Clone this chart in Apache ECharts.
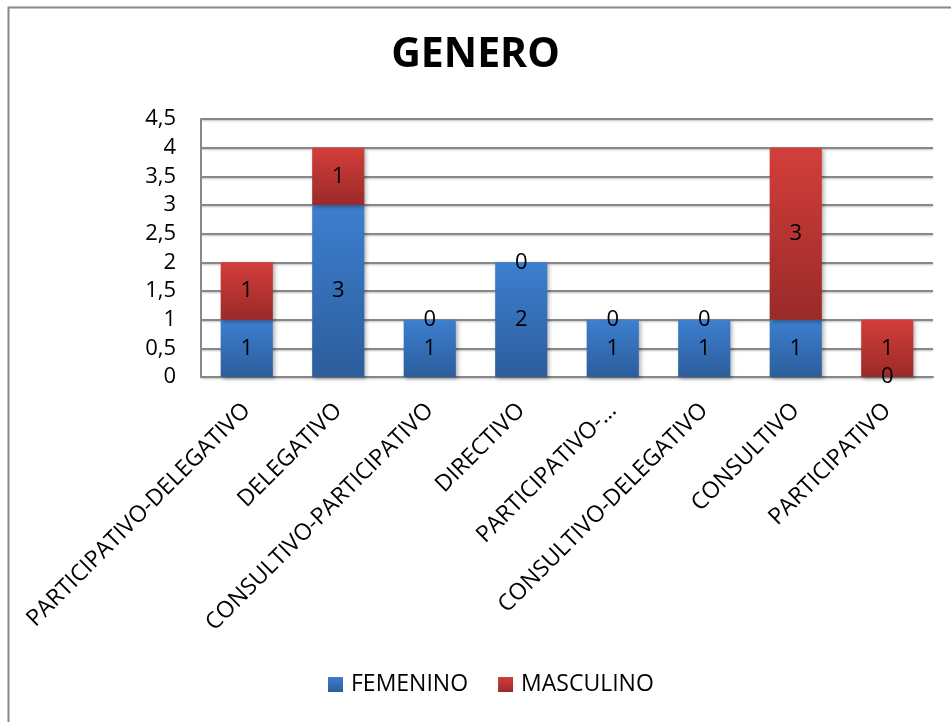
<!DOCTYPE html>
<html>
<head>
<meta charset="utf-8">
<script src="https://cdn.jsdelivr.net/npm/echarts@6/dist/echarts.min.js"></script>
<style>
  html, body { margin: 0; padding: 0; background: #fff; }
  #chart { width: 951px; height: 722px; }
</style>
</head>
<body>
<div id="chart"></div>
<script>
// Leadership styles by gender
const categories = [
  'PARTICIPATIVO-DELEGATIVO',
  'DELEGATIVO',
  'CONSULTIVO-PARTICIPATIVO',
  'DIRECTIVO',
  'PARTICIPATIVO-…',
  'CONSULTIVO-DELEGATIVO',
  'CONSULTIVO',
  'PARTICIPATIVO'
];
const femenino = [1, 3, 1, 2, 1, 1, 1, 0];
const masculino = [1, 1, 0, 0, 0, 0, 3, 1];
const yTicks = { min: 0, max: 4.5, interval: 0.5 };

const FONT = '"Open Sans", "Noto Sans", sans-serif';

function grad(top, bottom) {
  return new echarts.graphic.LinearGradient(0, 0, 0, 1, [
    { offset: 0, color: top },
    { offset: 1, color: bottom }
  ]);
}

const labelStyle = {
  show: true,
  position: 'inside',
  color: '#000',
  fontFamily: FONT,
  fontSize: 22
};

const chart = echarts.init(document.getElementById('chart'), null, { renderer: 'canvas' });
chart.setOption({
  animation: false,
  backgroundColor: '#fff',
  title: {
    text: 'GENERO',
    left: 'center',
    top: 30,
    textStyle: { fontFamily: FONT, fontWeight: 'bold', fontSize: 41, color: '#000' }
  },
  graphic: [{
    type: 'rect',
    shape: { x: 8.5, y: 7.5, width: 1000, height: 800 },
    style: { fill: 'none', stroke: '#888', lineWidth: 2 },
    silent: true
  }],
  legend: {
    top: 668,
    left: 323,
    itemWidth: 15,
    itemHeight: 15,
    itemGap: 30,
    icon: 'rect',
    textStyle: { fontFamily: FONT, fontSize: 23, color: '#000', padding: [0, 0, 0, 3] },
    data: ['FEMENINO', 'MASCULINO']
  },
  grid: { left: 201, right: 18, top: 119, bottom: 345, containLabel: false },
  xAxis: {
    type: 'category',
    data: categories,
    axisTick: { show: false },
    axisLine: { show: true, lineStyle: { color: '#888', width: 2 } },
    axisLabel: {
      rotate: 45,
      interval: 0,
      margin: 30,
      fontFamily: FONT,
      fontSize: 23,
      color: '#000'
    }
  },
  yAxis: {
    type: 'value',
    min: yTicks.min,
    max: yTicks.max,
    interval: yTicks.interval,
    axisLine: { show: true, lineStyle: { color: '#888', width: 2 } },
    axisTick: { show: false },
    splitLine: {
      show: true,
      lineStyle: { color: '#888', width: 2, shadowColor: 'rgba(0,0,0,0.25)', shadowBlur: 2, shadowOffsetY: 1 }
    },
    axisLabel: {
      margin: 25,
      fontFamily: FONT,
      fontSize: 22,
      color: '#000',
      formatter: v => String(v).replace('.', ',')
    }
  },
  series: [
    {
      name: 'FEMENINO',
      type: 'bar',
      stack: 'g',
      data: femenino,
      barWidth: '57%',
      itemStyle: {
        color: grad('#3d7fcf', '#2c5d9c'),
        shadowColor: 'rgba(0,0,0,0.3)', shadowBlur: 4, shadowOffsetX: 2, shadowOffsetY: 2
      },
      label: labelStyle
    },
    {
      name: 'MASCULINO',
      type: 'bar',
      stack: 'g',
      data: masculino,
      barWidth: '57%',
      itemStyle: {
        color: grad('#d33e3b', '#9a2a28'),
        shadowColor: 'rgba(0,0,0,0.3)', shadowBlur: 4, shadowOffsetX: 2, shadowOffsetY: 2
      },
      label: labelStyle
    }
  ]
});
</script>
</body>
</html>
